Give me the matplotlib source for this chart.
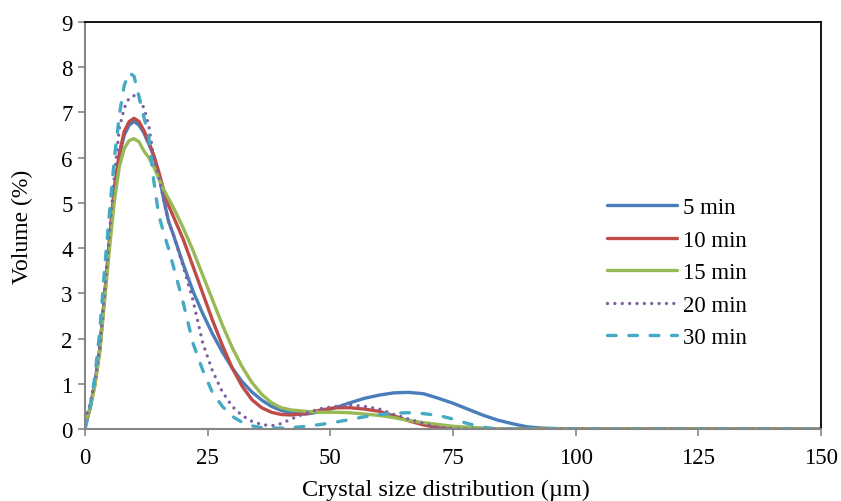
import numpy as np
import matplotlib
matplotlib.use("Agg")
import matplotlib.pyplot as plt

## datos ##
size_um = [0, 1, 2, 3, 4, 5, 6, 7, 8, 9, 10, 11, 12, 13, 14, 15, 16, 17, 18, 20, 22, 24, 26, 28,
           30, 32, 34, 36, 38, 40, 42, 45, 48, 51, 54, 57, 60, 63, 66, 69, 72, 75, 78, 81,
           84, 87, 90, 93, 96, 100, 150]

vol_5min = [0.05, 0.45, 1.0, 1.75, 2.95, 4.15, 5.25, 6.05, 6.5, 6.72, 6.8, 6.72, 6.55, 6.3, 6.05,
            5.65, 5.1, 4.6, 4.3, 3.65, 3.05, 2.55, 2.1, 1.7, 1.35, 1.05, 0.82, 0.64, 0.5, 0.41,
            0.36, 0.33, 0.38, 0.47, 0.58, 0.68, 0.75, 0.8, 0.81, 0.78, 0.68, 0.57, 0.44, 0.31,
            0.2, 0.12, 0.05, 0.02, 0.01, 0.0, 0.0]

vol_10min = [0.05, 0.45, 1.0, 1.75, 2.95, 4.2, 5.35, 6.1, 6.58, 6.8, 6.87, 6.8, 6.6, 6.35, 6.05,
             5.7, 5.3, 4.95, 4.7, 4.2, 3.6, 3.0, 2.4, 1.85, 1.35, 0.95, 0.65, 0.47, 0.37, 0.32,
             0.31, 0.34, 0.42, 0.47, 0.47, 0.44, 0.39, 0.29, 0.18, 0.09, 0.03, 0.0, 0.0, 0.0,
             0.0, 0.0, 0.0, 0.0, 0.0, 0.0, 0.0]

vol_15min = [0.1, 0.45, 0.95, 1.7, 2.85, 4.0, 5.05, 5.8, 6.2, 6.38, 6.42, 6.35, 6.15, 6.0, 5.8,
             5.55, 5.3, 5.1, 4.9, 4.45, 3.95, 3.4, 2.85, 2.3, 1.8, 1.38, 1.03, 0.77, 0.58, 0.47,
             0.42, 0.39, 0.37, 0.37, 0.36, 0.33, 0.3, 0.25, 0.19, 0.14, 0.1, 0.06, 0.04, 0.02,
             0.0, 0.0, 0.0, 0.0, 0.0, 0.0, 0.0]

vol_20min = [0.2, 0.55, 1.05, 1.8, 3.05, 4.35, 5.6, 6.65, 7.1, 7.32, 7.37, 7.3, 7.1, 6.7, 6.0,
             5.6, 5.1, 4.6, 4.3, 3.6, 2.85, 1.9, 1.28, 0.82, 0.5, 0.3, 0.17, 0.1, 0.07, 0.12,
             0.22, 0.35, 0.45, 0.5, 0.53, 0.5, 0.44, 0.32, 0.22, 0.12, 0.04, 0.01, 0.0, 0.0,
             0.0, 0.0, 0.0, 0.0, 0.0, 0.0, 0.0]

vol_30min = [0.0, 0.45, 1.15, 2.15, 3.55, 4.8, 6.0, 6.95, 7.6, 7.88, 7.8, 7.35, 6.9, 6.45, 5.5,
             4.75, 4.35, 4.0, 3.6, 2.8, 1.9, 1.3, 0.8, 0.5, 0.28, 0.15, 0.07, 0.03, 0.02, 0.02,
             0.03, 0.06, 0.1, 0.15, 0.21, 0.27, 0.32, 0.35, 0.36, 0.34, 0.3, 0.22, 0.12, 0.04,
             0.0, 0.0, 0.0, 0.0, 0.0, 0.0, 0.0]

labels = ["5 min", "10 min", "15 min", "20 min", "30 min"]
x_ticks = [0, 25, 50, 75, 100, 125, 150]
y_ticks = [0, 1, 2, 3, 4, 5, 6, 7, 8, 9]

plt.rcParams["font.family"] = ["Liberation Serif", "DejaVu Serif"]
fs = 16.5

fig = plt.figure(figsize=(8.41, 5.02), dpi=100)
ax = fig.add_axes([85/841, 1-430/502, 736/841, 407/502])

lw = 2.4
ax.plot(size_um, vol_5min, c="#4A7EBB", lw=lw, label=labels[0], solid_capstyle="round")
ax.plot(size_um, vol_10min, c="#BE4B48", lw=lw, label=labels[1], solid_capstyle="round")
ax.plot(size_um, vol_15min, c="#98B954", lw=lw, label=labels[2], solid_capstyle="round")
ax.plot(size_um, vol_20min, c="#7D60A0", lw=lw, label=labels[3],
        linestyle=(0, (0.01, 2.2)), dash_capstyle="round")
ax.plot(size_um, vol_30min, c="#46AAC5", lw=lw, label=labels[4],
        linestyle=(0, (2.6, 3.8)), dash_capstyle="round")

ax.set_xlim(0, 150)
ax.set_ylim(0, 9)
ax.set_xticks(x_ticks)
ax.set_yticks(y_ticks)
ax.tick_params(labelsize=fs, labelcolor="black", length=5, width=1.2, direction="out",
               color="#868686")
ax.tick_params(axis="x", pad=8)
ax.tick_params(axis="y", pad=4)

for s in ["left", "bottom"]:
    ax.spines[s].set_color("#868686")
    ax.spines[s].set_linewidth(1.5)
for s in ["top", "right"]:
    ax.spines[s].set_color("black")
    ax.spines[s].set_linewidth(1.3)

ax.set_xlabel("Crystal size distribution (\u00b5m)", fontsize=17.5)
ax.set_ylabel("Volume (%)", fontsize=17)
ax.xaxis.set_label_coords(0.49, -0.122)
ax.yaxis.set_label_coords(-0.07, 0.5)

leg = ax.legend(loc="upper left", bbox_to_anchor=(607/841, 1-198/502),
                bbox_transform=fig.transFigure, frameon=False, fontsize=fs,
                handlelength=3.05, handletextpad=0.26, labelspacing=0.5,
                borderpad=0, borderaxespad=0)

plt.savefig("out.png", dpi=100)
